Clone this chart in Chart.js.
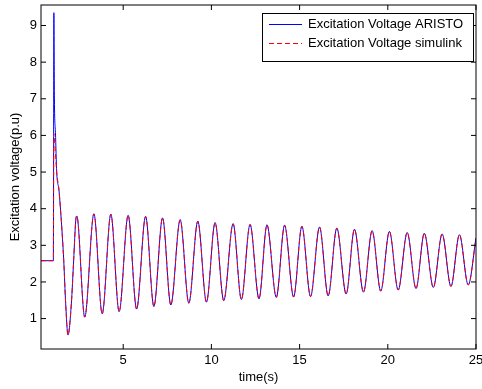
<!DOCTYPE html>
<html><head><meta charset="utf-8">
<script src="https://cdn.jsdelivr.net/npm/chart.js@4.4.1/dist/chart.umd.min.js"></script>
<style>html,body{margin:0;padding:0;background:#fff;}canvas{display:block;}</style>
</head><body>
<canvas id="c" width="482" height="389"></canvas>
<script>
// ---- data ----
const timeValues = [0.34, 1.04, 1.07, 1.10, 1.16, 1.23, 1.36, 1.49, 1.63, 1.74, 1.87, 2.06, 2.19, 2.31, 2.37,
  2.82, 3.34, 3.81, 4.30, 4.77, 5.28, 5.76, 6.27, 6.74, 7.23, 7.70, 8.23, 8.72, 9.23, 9.72, 10.21,
  10.70, 11.23, 11.70, 12.19, 12.70, 13.15, 13.68, 14.15, 14.66, 15.13, 15.62, 16.13, 16.62, 17.11,
  17.64, 18.11, 18.62, 19.11, 19.60, 20.09, 20.59, 21.10, 21.60, 22.07, 22.58, 23.08, 23.58, 24.06,
  24.56, 25.00];
const aristoValues = [2.58, 2.58, 9.35, 7.00, 6.08, 5.00, 4.50, 3.68, 2.58, 1.40, 0.55, 1.40, 2.58, 3.68, 3.80,
  1.04, 3.86, 1.13, 3.85, 1.19, 3.82, 1.26, 3.79, 1.33, 3.75, 1.37, 3.70, 1.42, 3.66, 1.45, 3.62,
  1.49, 3.59, 1.52, 3.57, 1.54, 3.56, 1.58, 3.55, 1.59, 3.52, 1.60, 3.50, 1.62, 3.47,
  1.67, 3.44, 1.72, 3.40, 1.75, 3.38, 1.78, 3.35, 1.82, 3.33, 1.85, 3.31, 1.88, 3.29,
  1.92, 3.20];
const simulinkValues = [2.58, 2.58, 6.05, 5.90, 5.50, 5.00, 4.50, 3.68, 2.58, 1.40, 0.55, 1.40, 2.58, 3.68, 3.80,
  1.04, 3.86, 1.13, 3.85, 1.19, 3.82, 1.26, 3.79, 1.33, 3.75, 1.37, 3.70, 1.42, 3.66, 1.45, 3.62,
  1.49, 3.59, 1.52, 3.57, 1.54, 3.56, 1.58, 3.55, 1.59, 3.52, 1.60, 3.50, 1.62, 3.47,
  1.67, 3.44, 1.72, 3.40, 1.75, 3.38, 1.78, 3.35, 1.82, 3.33, 1.85, 3.31, 1.88, 3.29,
  1.92, 3.20];
const seriesLabels = ['Excitation Voltage ARISTO', 'Excitation Voltage simulink'];
const seriesColors = ['#0000ff', '#ff0000'];
const xTickValues = [5, 10, 15, 20, 25];
const yTickValues = [1, 2, 3, 4, 5, 6, 7, 8, 9];
const xTitle = 'time(s)';
const yTitle = 'Excitation voltage(p.u)';

// ---- styling ----
const FONT = '"Liberation Sans", Arial, sans-serif';
const toPts = (ys) => timeValues.map((t, i) => ({x: t, y: ys[i]}));
const dashes = [[], [5, 3]];

const boxPlugin = {
  id: 'matlabBox',
  afterDatasetsDraw(chart) {
    const {ctx, chartArea: a, scales: {x, y}} = chart;
    ctx.save();
    ctx.strokeStyle = '#000';
    ctx.lineWidth = 1;
    const tl = 5;
    ctx.beginPath();
    xTickValues.forEach(v => {
      const px = x.getPixelForValue(v);
      ctx.moveTo(px, a.bottom); ctx.lineTo(px, a.bottom - tl);
      ctx.moveTo(px, a.top); ctx.lineTo(px, a.top + tl);
    });
    yTickValues.forEach(v => {
      const py = y.getPixelForValue(v);
      ctx.moveTo(a.left, py); ctx.lineTo(a.left + tl, py);
      ctx.moveTo(a.right, py); ctx.lineTo(a.right - tl, py);
    });
    ctx.stroke();
    ctx.strokeRect(a.left, a.top, a.right - a.left, a.bottom - a.top);
    ctx.restore();
  },
  afterDraw(chart) {
    const {ctx} = chart;
    const bx = 262.5, by = 13.5, bw = 211, bh = 48;
    ctx.save();
    ctx.fillStyle = '#fff';
    ctx.fillRect(bx, by, bw, bh);
    ctx.strokeStyle = '#000';
    ctx.lineWidth = 1;
    ctx.strokeRect(bx, by, bw, bh);
    const rows = [24.5, 43.5];
    seriesLabels.forEach((label, i) => {
      const ry = rows[i];
      ctx.save();
      ctx.strokeStyle = seriesColors[i];
      ctx.lineWidth = 1;
      ctx.setLineDash(dashes[i]);
      ctx.beginPath();
      ctx.moveTo(269, ry); ctx.lineTo(302, ry);
      ctx.stroke();
      ctx.restore();
      ctx.fillStyle = '#000';
      ctx.font = '13px ' + FONT;
      ctx.textBaseline = 'middle';
      ctx.textAlign = 'left';
      ctx.fillText(label, 308, ry);
    });
    ctx.restore();
  }
};

new Chart(document.getElementById('c'), {
  type: 'line',
  data: {
    datasets: [
      {label: seriesLabels[0], data: toPts(aristoValues), borderColor: seriesColors[0], borderWidth: 1,
       pointRadius: 0, cubicInterpolationMode: 'monotone', fill: false, order: 1},
      {label: seriesLabels[1], data: toPts(simulinkValues), borderColor: seriesColors[1], borderWidth: 1,
       borderDash: dashes[1], pointRadius: 0, cubicInterpolationMode: 'monotone', fill: false, order: 0}
    ]
  },
  options: {
    responsive: false,
    animation: false,
    devicePixelRatio: 1,
    layout: {padding: {top: 5, right: 6, left: 0, bottom: 0}},
    plugins: {legend: {display: false}, tooltip: {enabled: false}},
    scales: {
      x: {
        type: 'linear', min: 0.34, max: 25,
        afterBuildTicks: s => { s.ticks = xTickValues.map(v => ({value: v})); },
        afterFit: s => { s.height = 40; s.paddingLeft = 0; s.paddingRight = 0; },
        grid: {display: false, drawTicks: false},
        border: {display: false},
        ticks: {color: '#000', font: {family: FONT, size: 13}, padding: 4, maxRotation: 0,
                callback: v => String(v)},
        title: {display: true, text: xTitle, color: '#000', font: {family: FONT, size: 13},
                padding: {top: 0, bottom: 4}}
      },
      y: {
        type: 'linear', min: 0.17, max: 9.56,
        afterBuildTicks: s => { s.ticks = yTickValues.map(v => ({value: v})); },
        afterFit: s => { s.width = 41; s.paddingTop = 0; s.paddingBottom = 0; },
        grid: {display: false, drawTicks: false},
        border: {display: false},
        ticks: {color: '#000', font: {family: FONT, size: 13}, padding: 4,
                callback: v => String(v)},
        title: {display: true, text: yTitle, color: '#000', font: {family: FONT, size: 13},
                padding: {top: 8, bottom: 0}}
      }
    }
  },
  plugins: [boxPlugin]
});
</script>
</body></html>
